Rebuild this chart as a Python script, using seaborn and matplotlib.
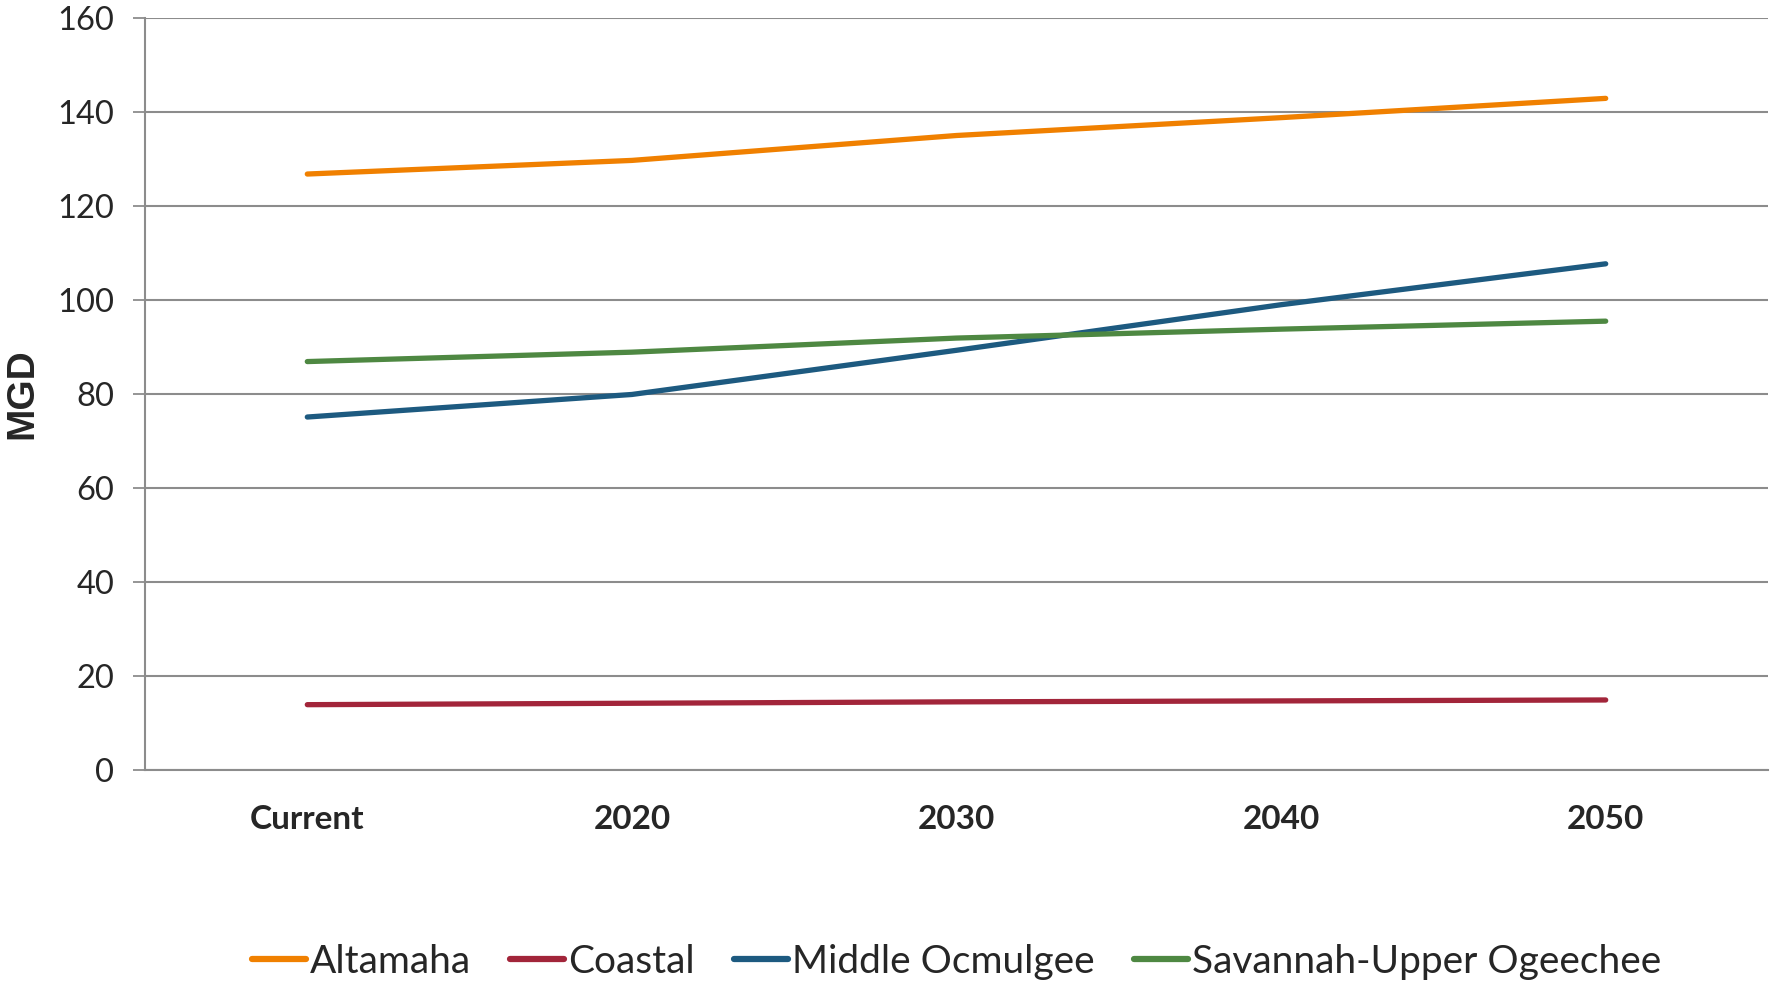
import numpy as np
import pandas as pd
import matplotlib
matplotlib.use('Agg')
import matplotlib.pyplot as plt
import seaborn as sns

periods = ['Current', '2020', '2030', '2040', '2050']
altamaha = [126.8, 129.7, 135.0, 138.8, 142.9]
coastal = [13.9, 14.2, 14.5, 14.7, 14.9]
middle_ocmulgee = [75.1, 79.9, 89.3, 99.0, 107.7]
savannah = [86.9, 88.9, 91.9, 93.8, 95.5]

series_names = ['Altamaha', 'Coastal', 'Middle Ocmulgee', 'Savannah-Upper Ogeechee']
colors = ['#F08000', '#A2253A', '#1D5A80', '#4E8842']

data = pd.DataFrame({
    'Period': periods * 4,
    'MGD': altamaha + coastal + middle_ocmulgee + savannah,
    'Basin': [n for n in series_names for _ in periods],
})

sns.set_style('white')
plt.rcParams['font.family'] = ['Lato', 'DejaVu Sans']

fig = plt.figure(figsize=(17.77, 9.82), dpi=100)
ax = fig.add_axes([145 / 1777, 1 - 770 / 982, (1768 - 145) / 1777, (770 - 18) / 982])

sns.lineplot(data=data, x='Period', y='MGD', hue='Basin', palette=colors,
             linewidth=3.8, ax=ax, sort=False)
for line in ax.lines:
    line.set_solid_capstyle('round')

ax.set_ylim(0, 160)
ax.set_xlim(-0.5, 4.5)
ax.set_yticks(np.arange(0, 161, 20))
ax.yaxis.grid(True, color='#8C8C8C', linewidth=1.5)
ax.set_axisbelow(True)

ax.set_xticks(range(len(periods)))
ax.set_xticklabels(periods, fontweight='bold', fontsize=24)
ax.set_xticks(np.arange(-0.5, 5, 1), minor=True)
ax.tick_params(axis='x', which='major', length=0, pad=25)
ax.tick_params(axis='x', which='minor', length=12, width=1.3, color='#8C8C8C', direction='out')
ax.tick_params(axis='y', length=9, width=1.3, color='#8C8C8C', labelsize=23.5, pad=13, left=True)

for side in ['top', 'right']:
    ax.spines[side].set_visible(False)
for side in ['left', 'bottom']:
    ax.spines[side].set_color('#8C8C8C')
    ax.spines[side].set_linewidth(1.5)

ax.set_xlabel('')
ax.set_ylabel('MGD', fontsize=28, fontweight='bold', family='Liberation Sans', labelpad=12)

ax.legend(loc='center', bbox_to_anchor=(0.5, -0.255), ncol=4, frameon=False,
          fontsize=28, handlelength=1.4, handletextpad=0.1, columnspacing=1.0)
for h in ax.get_legend().get_lines():
    h.set_linewidth(4.5)

fig.savefig('out.png', dpi=100)
